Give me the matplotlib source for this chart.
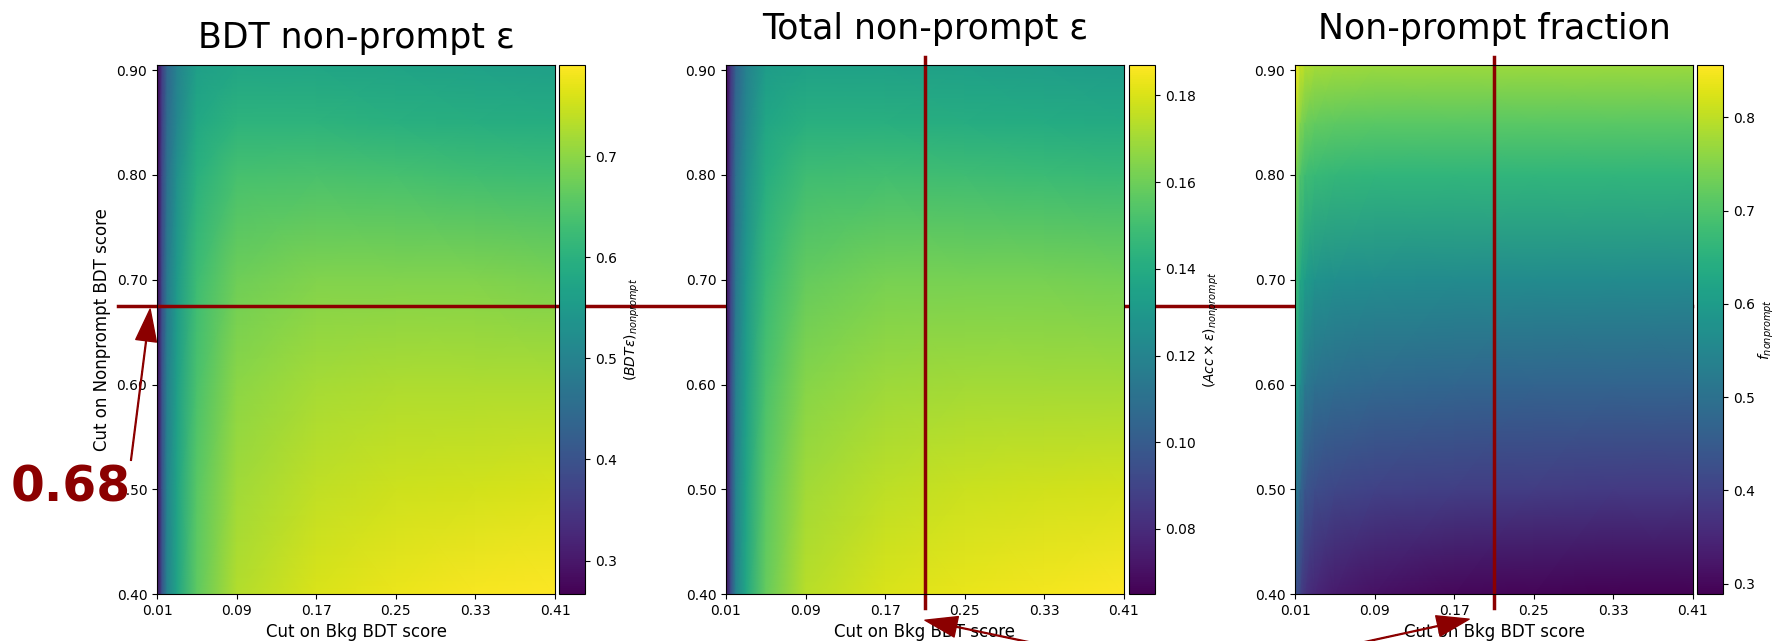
import numpy as np
import matplotlib
matplotlib.use("Agg")
import matplotlib.pyplot as plt
import matplotlib.transforms as mtransforms

# Grid of cut values
bkg_cuts = [0.01, 0.015, 0.02, 0.03, 0.05, 0.09, 0.17, 0.25, 0.33, 0.41]
np_cuts = [0.40, 0.50, 0.60, 0.70, 0.80, 0.85, 0.905]

# BDT non-prompt efficiency, rows = np_cuts, cols = bkg_cuts
bdt_eff = [
    [0.280, 0.40, 0.50, 0.57, 0.660, 0.730, 0.760, 0.775, 0.785, 0.790],
    [0.278, 0.40, 0.50, 0.57, 0.655, 0.715, 0.740, 0.750, 0.755, 0.760],
    [0.275, 0.40, 0.49, 0.56, 0.640, 0.700, 0.720, 0.725, 0.725, 0.725],
    [0.273, 0.39, 0.48, 0.55, 0.625, 0.675, 0.690, 0.690, 0.690, 0.685],
    [0.270, 0.38, 0.46, 0.53, 0.600, 0.635, 0.640, 0.635, 0.630, 0.625],
    [0.268, 0.37, 0.45, 0.51, 0.580, 0.605, 0.605, 0.600, 0.595, 0.590],
    [0.267, 0.36, 0.44, 0.50, 0.560, 0.575, 0.575, 0.570, 0.565, 0.560],
]

# Total non-prompt efficiency (Acc x eff)
tot_eff = [
    [0.068, 0.095, 0.120, 0.137, 0.158, 0.174, 0.180, 0.183, 0.185, 0.187],
    [0.068, 0.094, 0.119, 0.136, 0.156, 0.170, 0.175, 0.177, 0.178, 0.179],
    [0.067, 0.093, 0.117, 0.133, 0.152, 0.165, 0.169, 0.170, 0.170, 0.170],
    [0.067, 0.091, 0.114, 0.130, 0.147, 0.158, 0.162, 0.162, 0.162, 0.161],
    [0.066, 0.089, 0.110, 0.125, 0.141, 0.149, 0.150, 0.149, 0.148, 0.147],
    [0.066, 0.087, 0.107, 0.121, 0.137, 0.142, 0.142, 0.141, 0.140, 0.139],
    [0.065, 0.085, 0.104, 0.118, 0.132, 0.135, 0.135, 0.134, 0.133, 0.132],
]

# Non-prompt fraction
np_frac = [
    [0.44, 0.40, 0.37, 0.35, 0.330, 0.315, 0.300, 0.295, 0.290, 0.289],
    [0.53, 0.48, 0.44, 0.42, 0.410, 0.400, 0.395, 0.390, 0.385, 0.385],
    [0.63, 0.57, 0.52, 0.50, 0.490, 0.480, 0.475, 0.470, 0.470, 0.470],
    [0.69, 0.63, 0.60, 0.58, 0.570, 0.565, 0.560, 0.560, 0.560, 0.560],
    [0.75, 0.70, 0.68, 0.67, 0.665, 0.660, 0.660, 0.660, 0.660, 0.660],
    [0.80, 0.75, 0.73, 0.72, 0.715, 0.710, 0.710, 0.710, 0.710, 0.710],
    [0.856, 0.81, 0.79, 0.78, 0.775, 0.770, 0.770, 0.770, 0.770, 0.770],
]

titles = ["BDT non-prompt ε", "Total non-prompt ε", "Non-prompt fraction"]
cbar_labels = [r"$(BDT\epsilon)_{nonprompt}$",
               r"$(Acc\times\epsilon)_{nonprompt}$",
               r"$f_{nonprompt}$"]
xtick_vals = [0.01, 0.09, 0.17, 0.25, 0.33, 0.41]
ytick_vals = [0.40, 0.50, 0.60, 0.70, 0.80, 0.90]

np_cut_chosen = 0.675
bkg_cut_chosen = 0.21
red = "#8b0000"

fig = plt.figure(figsize=(17.75, 6.41), dpi=100)

X, Y = np.meshgrid(bkg_cuts, np_cuts)
axes_left = [0.0885, 0.409, 0.7296]
cbar_left = [0.3149, 0.6361, 0.9561]
bottom, height, width = 0.0733, 0.8253, 0.2242

axes = []
for i, data in enumerate([bdt_eff, tot_eff, np_frac]):
    ax = fig.add_axes([axes_left[i], bottom, width, height])
    cax = fig.add_axes([cbar_left[i], bottom, 0.0147, height])
    mesh = ax.pcolormesh(X, Y, np.array(data), cmap="viridis", shading="gouraud")
    cb = fig.colorbar(mesh, cax=cax)
    cb.ax.tick_params(labelsize=10)
    cb.set_label(cbar_labels[i], fontsize=10, labelpad=4 if i < 2 else 1)
    ax.set_xlim(0.01, 0.41)
    ax.set_ylim(0.40, 0.905)
    ax.set_xticks(xtick_vals)
    ax.set_xticklabels([f"{v:.2f}" for v in xtick_vals])
    ax.set_yticks(ytick_vals)
    ax.set_yticklabels([f"{v:.2f}" for v in ytick_vals])
    ax.tick_params(labelsize=10)
    ax.set_xlabel("Cut on Bkg BDT score", fontsize=12)
    ax.set_title(titles[i], fontsize=25, pad=12 if i == 0 else 19)
    axes.append(ax)

axes[0].set_ylabel("Cut on Nonprompt BDT score", fontsize=12)

# horizontal cut line across all panels
trans = mtransforms.blended_transform_factory(fig.transFigure, axes[0].transData)
axes[0].plot([118 / 1775, 1692 / 1775], [np_cut_chosen, np_cut_chosen],
             color=red, lw=2.5, transform=trans, clip_on=False)

# vertical cut lines on panels 2 and 3
for ax in axes[1:]:
    ax.axvline(bkg_cut_chosen, ymin=-0.027, ymax=1.015, color=red, lw=2.5,
               clip_on=False)

arrow = dict(facecolor=red, edgecolor=red, width=0.6, headwidth=15,
             headlength=23, shrink=0.0)
axes[0].annotate("0.68", xy=(0.003, 0.672), xytext=(-0.077, 0.502),
                 textcoords="data", fontsize=35, fontweight="bold", color=red,
                 ha="center", va="center", arrowprops=arrow,
                 annotation_clip=False)
axes[1].annotate("", xy=(0.21, 0.375), xytext=(0.40, 0.337),
                 arrowprops=arrow, annotation_clip=False)
axes[2].annotate("", xy=(0.185, 0.376), xytext=(0.05, 0.348),
                 arrowprops=arrow, annotation_clip=False)

fig.savefig("out.png", dpi=100)
